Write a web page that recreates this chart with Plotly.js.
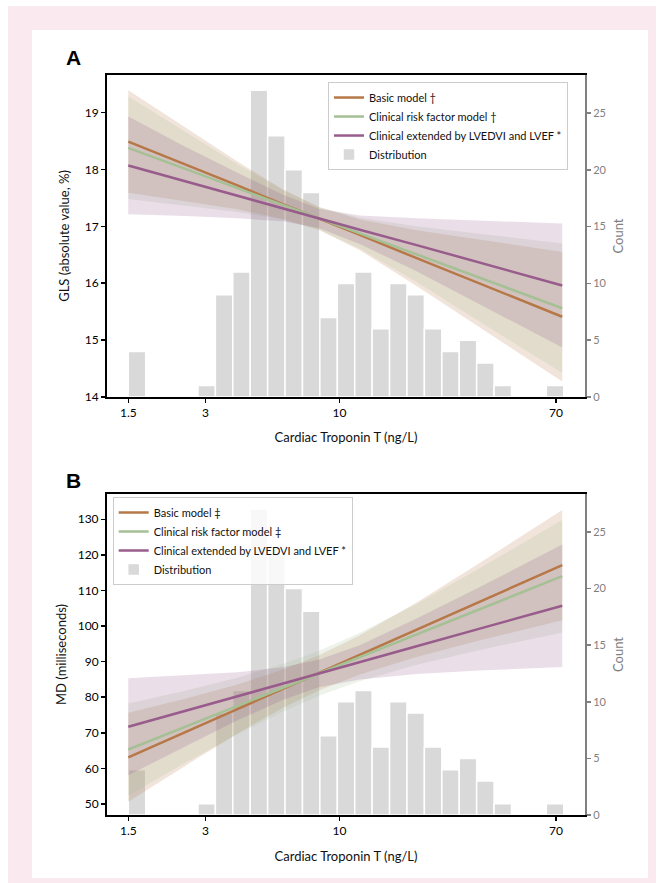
<!DOCTYPE html>
<html>
<head>
<meta charset="utf-8">
<script src="https://cdn.plot.ly/plotly-3.0.1.min.js"></script>
<style>html,body{margin:0;padding:0;background:#fff;}#chart{width:664px;height:883px;}</style>
</head>
<body>
<div id="chart"></div>
<script>
// ---------- data ----------
const tropX = [1.5, 2.5, 4, 6, 8.3, 12, 20, 35, 74];

const glsBasic   = [18.49, 18.09, 17.72, 17.39, 17.14, 16.85, 16.44, 16.00, 15.41];
const glsBasicUp = [19.39, 18.74, 18.14, 17.65, 17.34, 17.12, 16.93, 16.77, 16.55];
const glsBasicLo = [17.59, 17.44, 17.30, 17.13, 16.94, 16.58, 15.95, 15.24, 14.27];
const glsClin    = [18.38, 18.01, 17.67, 17.38, 17.14, 16.88, 16.51, 16.10, 15.56];
const glsClinUp  = [19.28, 18.66, 18.09, 17.64, 17.34, 17.15, 17.00, 16.87, 16.70];
const glsClinLo  = [17.48, 17.36, 17.25, 17.12, 16.94, 16.61, 16.02, 15.34, 14.42];
const glsExt     = [18.07, 17.79, 17.54, 17.32, 17.14, 16.94, 16.67, 16.37, 15.96];
const glsExtUp   = [18.93, 18.40, 17.94, 17.56, 17.31, 17.19, 17.14, 17.10, 17.05];
const glsExtLo   = [17.21, 17.18, 17.14, 17.09, 16.97, 16.69, 16.21, 15.64, 14.87];

const mdBasic   = [63.1, 70.2, 76.7, 82.3, 86.8, 91.9, 99.0, 106.7, 117.1];
const mdBasicUp = [75.6, 79.6, 83.6, 87.7, 91.7, 97.4, 106.6, 117.6, 132.6];
const mdBasicLo = [50.6, 60.7, 69.8, 77.0, 81.9, 86.4, 91.3, 95.9, 101.6];
const mdClin    = [65.3, 71.7, 77.6, 82.6, 86.7, 91.3, 97.7, 104.7, 114.0];
const mdClinUp  = [78.2, 81.8, 85.5, 89.3, 93.0, 98.1, 106.2, 116.1, 129.8];
const mdClinLo  = [52.4, 61.6, 69.6, 75.9, 80.4, 84.5, 89.1, 93.2, 98.2];
const mdExt     = [71.7, 76.2, 80.3, 83.8, 86.6, 89.8, 94.3, 99.2, 105.7];
const mdExtUp   = [85.3, 86.1, 87.0, 88.4, 90.5, 94.6, 102.1, 110.8, 122.9];
const mdExtLo   = [58.1, 66.2, 73.5, 79.2, 82.8, 85.0, 86.5, 87.5, 88.5];

// histogram of troponin T: 25 log-spaced bins from 1.5 to 75 ng/L
const binLo = 1.5, binHi = 75;
const counts = [4, 0, 0, 0, 1, 9, 11, 27, 23, 20, 18, 7, 10, 11, 6, 10, 9, 6, 4, 5, 3, 1, 0, 0, 1];

const tickVals = [1.5, 3, 10, 70];
const tickText = ['1.5', '3', '10', '70'];

const namesA = ['Basic model †', 'Clinical risk factor model †', 'Clinical extended by LVEDVI and LVEF *', 'Distribution'];
const namesB = ['Basic model ‡', 'Clinical risk factor model ‡', 'Clinical extended by LVEDVI and LVEF *', 'Distribution'];

// ---------- styling ----------
const colBasic = '#b77848', colClin = '#a4c094', colExt = '#985c8c';
const fillBasic = 'rgba(183,120,72,0.2)', fillClin = 'rgba(164,192,148,0.2)', fillExt = 'rgba(152,92,140,0.2)';
const FONT = 'Lato, "Open Sans", "DejaVu Sans", sans-serif';

// bin edges (log spaced)
const nb = counts.length;
const lLo = Math.log10(binLo), lHi = Math.log10(binHi), step = (lHi - lLo) / nb;
const binCenters = [], binWidths = [];
for (let i = 0; i < nb; i++) {
  const a = Math.pow(10, lLo + i * step), b = Math.pow(10, lLo + (i + 1) * step);
  binCenters.push((a + b) / 2); binWidths.push(b - a);
}

function band(up, lo, fill, xa, ya) {
  return {x: tropX.concat(tropX.slice().reverse()), y: up.concat(lo.slice().reverse()),
    type: 'scatter', mode: 'lines', fill: 'toself', fillcolor: fill, line: {width: 0},
    showlegend: false, hoverinfo: 'skip', xaxis: xa, yaxis: ya};
}
function line(y, col, name, xa, ya, leg, rank) {
  return {x: tropX, y: y, type: 'scatter', mode: 'lines', line: {color: col, width: 2.5},
    name: name, xaxis: xa, yaxis: ya, legend: leg, legendrank: rank};
}
function hist(xa, ya, leg, name) {
  return {x: binCenters, y: counts, width: binWidths, type: 'bar', name: name,
    marker: {color: '#d9d9d9', line: {color: '#ffffff', width: 1.5}},
    xaxis: xa, yaxis: ya, legend: leg, legendrank: 4};
}

const traces = [
  hist('x', 'y', 'legend', namesA[3]),
  band(glsBasicUp, glsBasicLo, fillBasic, 'x', 'y2'),
  band(glsClinUp, glsClinLo, fillClin, 'x', 'y2'),
  band(glsExtUp, glsExtLo, fillExt, 'x', 'y2'),
  line(glsBasic, colBasic, namesA[0], 'x', 'y2', 'legend', 1),
  line(glsClin, colClin, namesA[1], 'x', 'y2', 'legend', 2),
  line(glsExt, colExt, namesA[2], 'x', 'y2', 'legend', 3),

  hist('x2', 'y3', 'legend2', namesB[3]),
  band(mdBasicUp, mdBasicLo, fillBasic, 'x2', 'y4'),
  band(mdClinUp, mdClinLo, fillClin, 'x2', 'y4'),
  band(mdExtUp, mdExtLo, fillExt, 'x2', 'y4'),
  line(mdBasic, colBasic, namesB[0], 'x2', 'y4', 'legend2', 1),
  line(mdClin, colClin, namesB[1], 'x2', 'y4', 'legend2', 2),
  line(mdExt, colExt, namesB[2], 'x2', 'y4', 'legend2', 3)
];

const xCommon = {
  type: 'log', range: [0.093, 1.958], tickvals: tickVals, ticktext: tickText,
  ticks: 'outside', ticklen: 4, tickwidth: 1.5, tickcolor: '#000',
  showline: true, linecolor: '#000', linewidth: 2, mirror: true,
  showgrid: false, zeroline: false, tickfont: {size: 12, color: '#000'},
  title: {text: 'Cardiac Troponin T (ng/L)', font: {size: 13, color: '#111'}, standoff: 14}
};
const countCommon = {
  side: 'right', range: [0, 28.35], dtick: 5, ticks: 'outside', ticklen: 4, tickwidth: 1.5,
  tickcolor: '#808080', showline: true, linecolor: '#808080', linewidth: 2,
  showgrid: false, zeroline: false, tickfont: {size: 11, color: '#808080'},
  title: {text: 'Count', font: {size: 13, color: '#808080'}, standoff: 8}
};
const leftCommon = {
  side: 'left', ticks: 'outside', ticklen: 4, tickwidth: 1.5, tickcolor: '#000',
  showline: true, linecolor: '#000', linewidth: 2, showgrid: false, zeroline: false,
  tickfont: {size: 12, color: '#000'}
};
const legCommon = {
  bgcolor: 'rgba(255,255,255,0.8)', bordercolor: '#cccccc', borderwidth: 1,
  font: {size: 11, color: '#111', family: FONT}, xanchor: 'left', yanchor: 'top',
  traceorder: 'normal', itemwidth: 30, tracegroupgap: 0
};

const layout = {
  width: 664, height: 883,
  margin: {l: 107, r: 79, t: 75, b: 68},
  paper_bgcolor: '#ffffff', plot_bgcolor: 'rgba(0,0,0,0)',
  font: {family: FONT, color: '#000'},
  hovermode: false, barmode: 'overlay', bargap: 0,
  xaxis: Object.assign({}, xCommon, {anchor: 'y', domain: [0, 1]}),
  yaxis: Object.assign({}, countCommon, {anchor: 'x', domain: [0.5649, 1]}),
  yaxis2: Object.assign({}, leftCommon, {overlaying: 'y', anchor: 'x', range: [14, 19.66], dtick: 1,
    title: {text: 'GLS (absolute value, %)', font: {size: 13, color: '#111'}, standoff: 12}}),
  xaxis2: Object.assign({}, xCommon, {anchor: 'y3', domain: [0, 1]}),
  yaxis3: Object.assign({}, countCommon, {anchor: 'x2', domain: [0, 0.4338]}),
  yaxis4: Object.assign({}, leftCommon, {overlaying: 'y3', anchor: 'x2', range: [46.9, 137.1], dtick: 10,
    title: {text: 'MD (milliseconds)', font: {size: 13, color: '#111'}, standoff: 8}}),
  legend: Object.assign({}, legCommon, {x: 0.4623, y: 0.9905}),
  legend2: Object.assign({}, legCommon, {x: 0.0119, y: 0.4297}),
  annotations: [
    {text: '<b>A</b>', xref: 'paper', yref: 'paper', x: -0.0711, y: 1.023, showarrow: false,
     xanchor: 'center', yanchor: 'middle', font: {size: 21, family: 'Liberation Sans, Arial, sans-serif', color: '#000'}},
    {text: '<b>B</b>', xref: 'paper', yref: 'paper', x: -0.0711, y: 0.4527, showarrow: false,
     xanchor: 'center', yanchor: 'middle', font: {size: 21, family: 'Liberation Sans, Arial, sans-serif', color: '#000'}}
  ],
  shapes: [
    {type: 'rect', xref: 'paper', yref: 'paper', x0: -0.2071, x1: 1.1485, y0: -0.11, y1: 1.0932,
     fillcolor: '#fbe9f0', line: {width: 0}, layer: 'below'},
    {type: 'rect', xref: 'paper', yref: 'paper', x0: -0.1569, x1: 1.1318, y0: -0.0851, y1: 1.0608,
     fillcolor: '#ffffff', line: {width: 0}, layer: 'below'}
  ]
};

Plotly.newPlot('chart', traces, layout, {displayModeBar: false, staticPlot: true});
</script>
</body>
</html>
